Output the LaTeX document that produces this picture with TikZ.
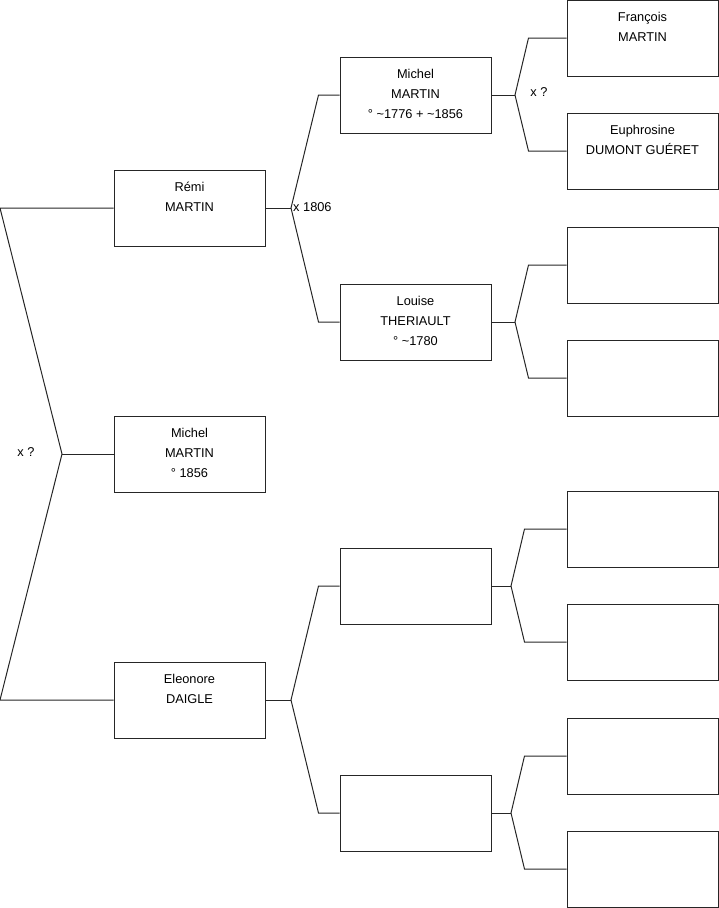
\documentclass[tikz,border=0pt]{standalone}
\usepackage{fontspec}
\setmainfont{Liberation Sans}
\usetikzlibrary{calc}
\tikzset{
  person/.style={draw=black!85, line width=1pt, minimum width=151pt, minimum height=76pt, inner sep=0pt, fill=white},
  names/.style={font=\fontsize{12.8}{20}\selectfont, align=center, inner sep=0pt, anchor=base},
  note/.style={font=\fontsize{12.8}{15}\selectfont, inner sep=0pt},
  link/.style={draw=black!85, line width=1pt}
}
\begin{document}
\begin{tikzpicture}[x=1pt,y=-1pt]
\useasboundingbox (0,0) rectangle (719,908);
% generation 0
\node[person] (remi) at (189.5,208) {};
\node[person] (michel) at (189.5,454) {};
\node[person] (eleo) at (189.5,700) {};
% generation 1
\node[person] (mich1) at (415.5,95) {};
\node[person] (louise) at (415.5,322) {};
\node[person] (b1) at (415.5,586) {};
\node[person] (b2) at (415.5,813) {};
% generation 2
\node[person] (franc) at (642.5,38) {};
\node[person] (euph) at (642.5,151) {};
\node[person] (c1) at (642.5,265) {};
\node[person] (c2) at (642.5,378) {};
\node[person] (c3) at (642.5,529) {};
\node[person] (c4) at (642.5,642) {};
\node[person] (c5) at (642.5,756) {};
\node[person] (c6) at (642.5,869) {};
% names (anchor at baseline of last line)
\node[names] (tremi) at ($(remi.north)+(0,41.5)$) {Rémi\\MARTIN};
\node[names] (tmichel) at ($(michel.north)+(0,61.5)$) {Michel\\MARTIN\\° 1856};
\node[names] (teleo) at ($(eleo.north)+(0,41.5)$) {Eleonore\\DAIGLE};
\node[names] (tmich1) at ($(mich1.north)+(0,61.5)$) {Michel\\MARTIN\\° \textasciitilde1776 + \textasciitilde1856};
\node[names] (tlouise) at ($(louise.north)+(0,61.5)$) {Louise\\THERIAULT\\° \textasciitilde1780};
\node[names] (tfranc) at ($(franc.north)+(0,41.5)$) {François\\MARTIN};
\node[names] (teuph) at ($(euph.north)+(0,41.5)$) {Euphrosine\\DUMONT GUÉRET};
% fork points
\coordinate (f0) at (62,454);
\coordinate (fa) at (291,208);
\coordinate (fb) at (291,700);
\coordinate (fc) at (515,95);
\coordinate (fd) at (515,322);
\coordinate (fe) at (511,586);
\coordinate (ff) at (511,813);
% generation 0 bracket
\draw[link] (remi.west) -- (0,208) -- (f0) -- (0,700) -- (eleo.west);
\draw[link] (michel.west) -- (f0);
% generation 1 brackets
\draw[link] (remi.east) -- (fa);
\draw[link] (mich1.west) -- ++(-21,0) -- (fa) -- ($(louise.west)+(-21,0)$) -- (louise.west);
\draw[link] (eleo.east) -- (fb);
\draw[link] (b1.west) -- ++(-21,0) -- (fb) -- ($(b2.west)+(-21,0)$) -- (b2.west);
% generation 2 brackets
\draw[link] (mich1.east) -- (fc);
\draw[link] (franc.west) -- ++(-38,0) -- (fc) -- ($(euph.west)+(-38,0)$) -- (euph.west);
\draw[link] (louise.east) -- (fd);
\draw[link] (c1.west) -- ++(-38,0) -- (fd) -- ($(c2.west)+(-38,0)$) -- (c2.west);
\draw[link] (b1.east) -- (fe);
\draw[link] (c3.west) -- ++(-42,0) -- (fe) -- ($(c4.west)+(-42,0)$) -- (c4.west);
\draw[link] (b2.east) -- (ff);
\draw[link] (c5.west) -- ++(-42,0) -- (ff) -- ($(c6.west)+(-42,0)$) -- (c6.west);
% marriage notes
\node[note] (m0) at (26,452) {x ?};
\node[note, anchor=west] (m1) at (293,207) {x 1806};
\node[note] (m2) at (539,92) {x ?};
\end{tikzpicture}
\end{document}
